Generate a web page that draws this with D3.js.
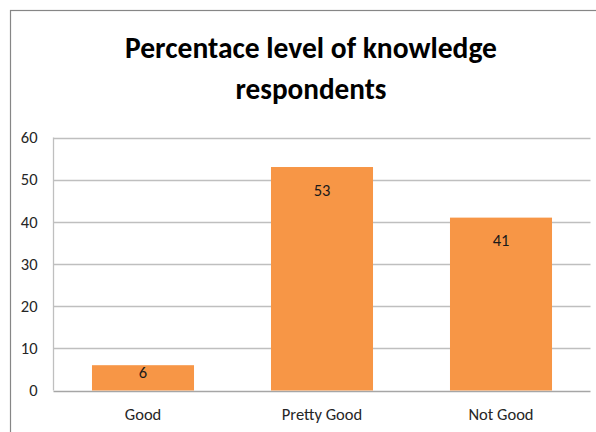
<!DOCTYPE html>
<html>
<head>
<meta charset="utf-8">
<script src="https://cdn.jsdelivr.net/npm/d3@7"></script>
<style>
  html, body { margin: 0; padding: 0; background: #fff; }
  svg { display: block; }
</style>
</head>
<body>
<svg id="chart" width="596" height="432"></svg>
<script>
const categories = ["Good", "Pretty Good", "Not Good"];
const values = [6, 53, 41];
const yTicks = [0, 10, 20, 30, 40, 50, 60];
const titleLines = ["Percentace level of knowledge", "respondents"];

const W = 596, H = 432;
const font = "Carlito, 'Liberation Sans Narrow', 'Liberation Sans', Arial, sans-serif";
const svg = d3.select("#chart");

// outer frame
svg.append("rect")
  .attr("x", 10.5).attr("y", 10.5)
  .attr("width", W + 20).attr("height", H + 20)
  .attr("fill", "#fff").attr("stroke", "#868686").attr("stroke-width", 1.2);

const plot = { left: 53.5, right: 590.5, top: 137.5, bottom: 390.5 };

const x = d3.scaleBand().domain(categories)
  .range([plot.left, plot.right])
  .paddingInner(0.43).paddingOuter(0.215);
const y = d3.scaleLinear().domain([0, 60]).range([plot.bottom, plot.top]);

// gridlines
svg.append("g").selectAll("line").data(yTicks).join("line")
  .attr("x1", plot.left).attr("x2", plot.right)
  .attr("y1", d => Math.round(y(d)) + 0.5).attr("y2", d => Math.round(y(d)) + 0.5)
  .attr("stroke", d => d === 0 ? "#a6a6a6" : "#bfbfbf").attr("stroke-width", 1.3);

// left axis line
svg.append("line")
  .attr("x1", plot.left).attr("x2", plot.left)
  .attr("y1", y(60)).attr("y2", y(0))
  .attr("stroke", "#bfbfbf").attr("stroke-width", 1.3);

const lblSize = 16.5;

// y axis labels
const yAxis = d3.axisLeft(y).tickValues(yTicks).tickSize(0).tickPadding(16);
const ya = svg.append("g").attr("transform", `translate(${plot.left},0)`).call(yAxis);
ya.select(".domain").remove();
ya.selectAll("text").attr("font-family", font).attr("font-size", lblSize).attr("fill", "#262626");

// bars
svg.append("g").selectAll("rect").data(values).join("rect")
  .attr("x", (d, i) => x(categories[i]))
  .attr("width", x.bandwidth())
  .attr("y", d => y(d))
  .attr("height", d => y(0) - y(d))
  .attr("fill", "#F79646");

// value labels
svg.append("g").selectAll("text").data(values).join("text")
  .attr("x", (d, i) => x(categories[i]) + x.bandwidth() / 2)
  .attr("y", d => {
    const top = y(d), h = y(0) - y(d);
    return h > 46 ? top + 23 : top + 7;
  })
  .attr("dy", "0.35em")
  .attr("text-anchor", "middle")
  .attr("font-family", font).attr("font-size", lblSize).attr("fill", "#1a1a1a")
  .text(d => d);

// x axis labels
const xAxis = d3.axisBottom(x).tickSize(0).tickPadding(18);
const xa = svg.append("g").attr("transform", `translate(0,${plot.bottom})`).call(xAxis);
xa.select(".domain").remove();
xa.selectAll("text").attr("font-family", font).attr("font-size", lblSize).attr("fill", "#262626");

// title
const baselines = [58, 99];
const targetW = [372, 151];
titleLines.forEach((t, i) => {
  const el = svg.append("text")
    .attr("x", 311).attr("y", baselines[i])
    .attr("text-anchor", "middle")
    .attr("font-family", font).attr("font-weight", "bold")
    .attr("font-size", 28).attr("fill", "#000")
    .text(t);
  const w = el.node().getComputedTextLength();
  if (w > 0) el.attr("font-size", 28 * targetW[i] / w);
});
</script>
</body>
</html>
